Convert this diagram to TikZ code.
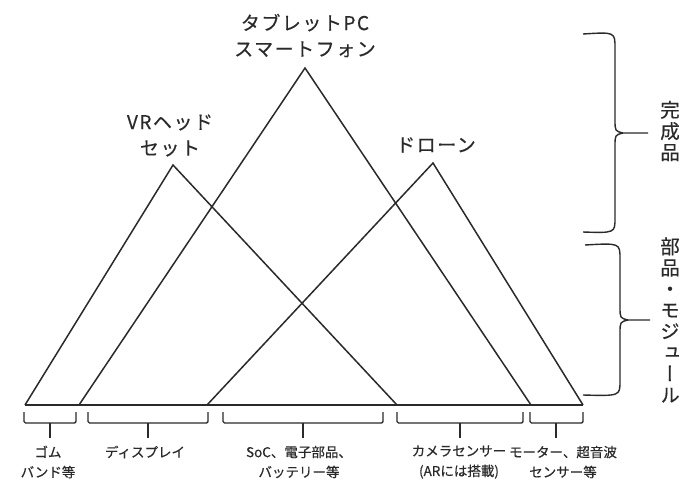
\documentclass[tikz,border=0pt]{standalone}
\usepackage{fontspec}
\setmainfont{Noto Sans CJK JP}[FakeBold=0.35]
\newfontfamily\vjp{Noto Sans CJK JP}[RawFeature=+vert,FakeBold=0.35]
\definecolor{ink}{HTML}{2A2A2A}
\begin{document}
\begin{tikzpicture}[x=1pt,y=-1pt,
  line/.style={draw=ink, line width=1.5pt, line join=miter},
  brk/.style={draw=ink, line width=1.4pt, rounded corners=1.5pt},
  apexlbl/.style={text=ink, inner sep=0pt, align=center,
    font=\fontsize{19}{26}\selectfont\addfontfeature{LetterSpace=8}},
  botlbl/.style={text=ink, inner sep=0pt, align=center,
    font=\fontsize{13.5}{20}\selectfont},
  vlbl/.style={text=ink, inner sep=0pt, align=center,
    font=\vjp\fontsize{19.5}{21.2}\selectfont}]
\useasboundingbox[fill=white] (0,0) rectangle (682,480);
% triangles
\coordinate (vrA) at (173,165);
\coordinate (vrL) at (25,405);
\coordinate (vrR) at (397,405);
\coordinate (tbA) at (305,68);
\coordinate (tbL) at (79,405);
\coordinate (tbR) at (531,405);
\coordinate (drA) at (433,163);
\coordinate (drL) at (207,405);
\coordinate (drR) at (583,405);
\draw[line] (vrL) -- (vrA) -- (vrR);
\draw[line] (tbL) -- (tbA) -- (tbR);
\draw[line] (drL) -- (drA) -- (drR);
\draw[line] (vrL) -- (drR);
% apex labels
\node[apexlbl] (tbT) at (305,35.5) {タブレットPC\\スマートフォン};
\node[apexlbl] (vrT) at (170,135.5) {VRヘッド\\セット};
\node[apexlbl] (drT) at (436,145) {ドローン};
% bottom brackets
\foreach \a/\b/\m/\n in {24/76/50/b1, 88/208/148/b2, 223/383/303/b3, 397/523/460/b4, 530/583/556/b5}{
  \draw[brk] (\a,412) -- (\a,423) -- (\b,423) -- (\b,412);
  \coordinate (\n) at (\m,423);
  \coordinate (\n t) at (\m,438);
  \draw[line, line width=1.4pt] (\n) -- (\n t);
}
\node[botlbl] (l1) at (48,462) {ゴム\\バンド等};
\node[botlbl] (l2) at (145,452) {ディスプレイ};
\node[botlbl] (l3) at (299,462) {SoC、電子部品、\\バッテリー等};
\node[botlbl] (l4) at (459,462) {カメラセンサー\\(ARには搭載)};
\node[botlbl] (l5) at (563,462) {モーター、超音波\\センサー等};
% right braces
\draw[brk, rounded corners=0pt] (583,34) .. controls (615,32) .. (615,48) -- (615,120)
  .. controls (615,131) .. (623,133) -- (648,133);
\draw[brk, rounded corners=0pt] (623,133) .. controls (615,135) .. (615,146) -- (615,218)
  .. controls (615,233) .. (583,232);
\draw[brk, rounded corners=0pt] (585,245) .. controls (620,243) .. (620,259) -- (620,307)
  .. controls (620,318) .. (628,320) -- (650,320);
\draw[brk, rounded corners=0pt] (628,320) .. controls (620,322) .. (620,333) -- (620,381)
  .. controls (620,396) .. (583,395);
\node[vlbl] (v1) at (670,131) {完\\成\\品};
\node[vlbl] (v2) at (670,320) {部\\品\\・\\モ\\ジ\\ュ\\ー\\ル};
\end{tikzpicture}
\end{document}
